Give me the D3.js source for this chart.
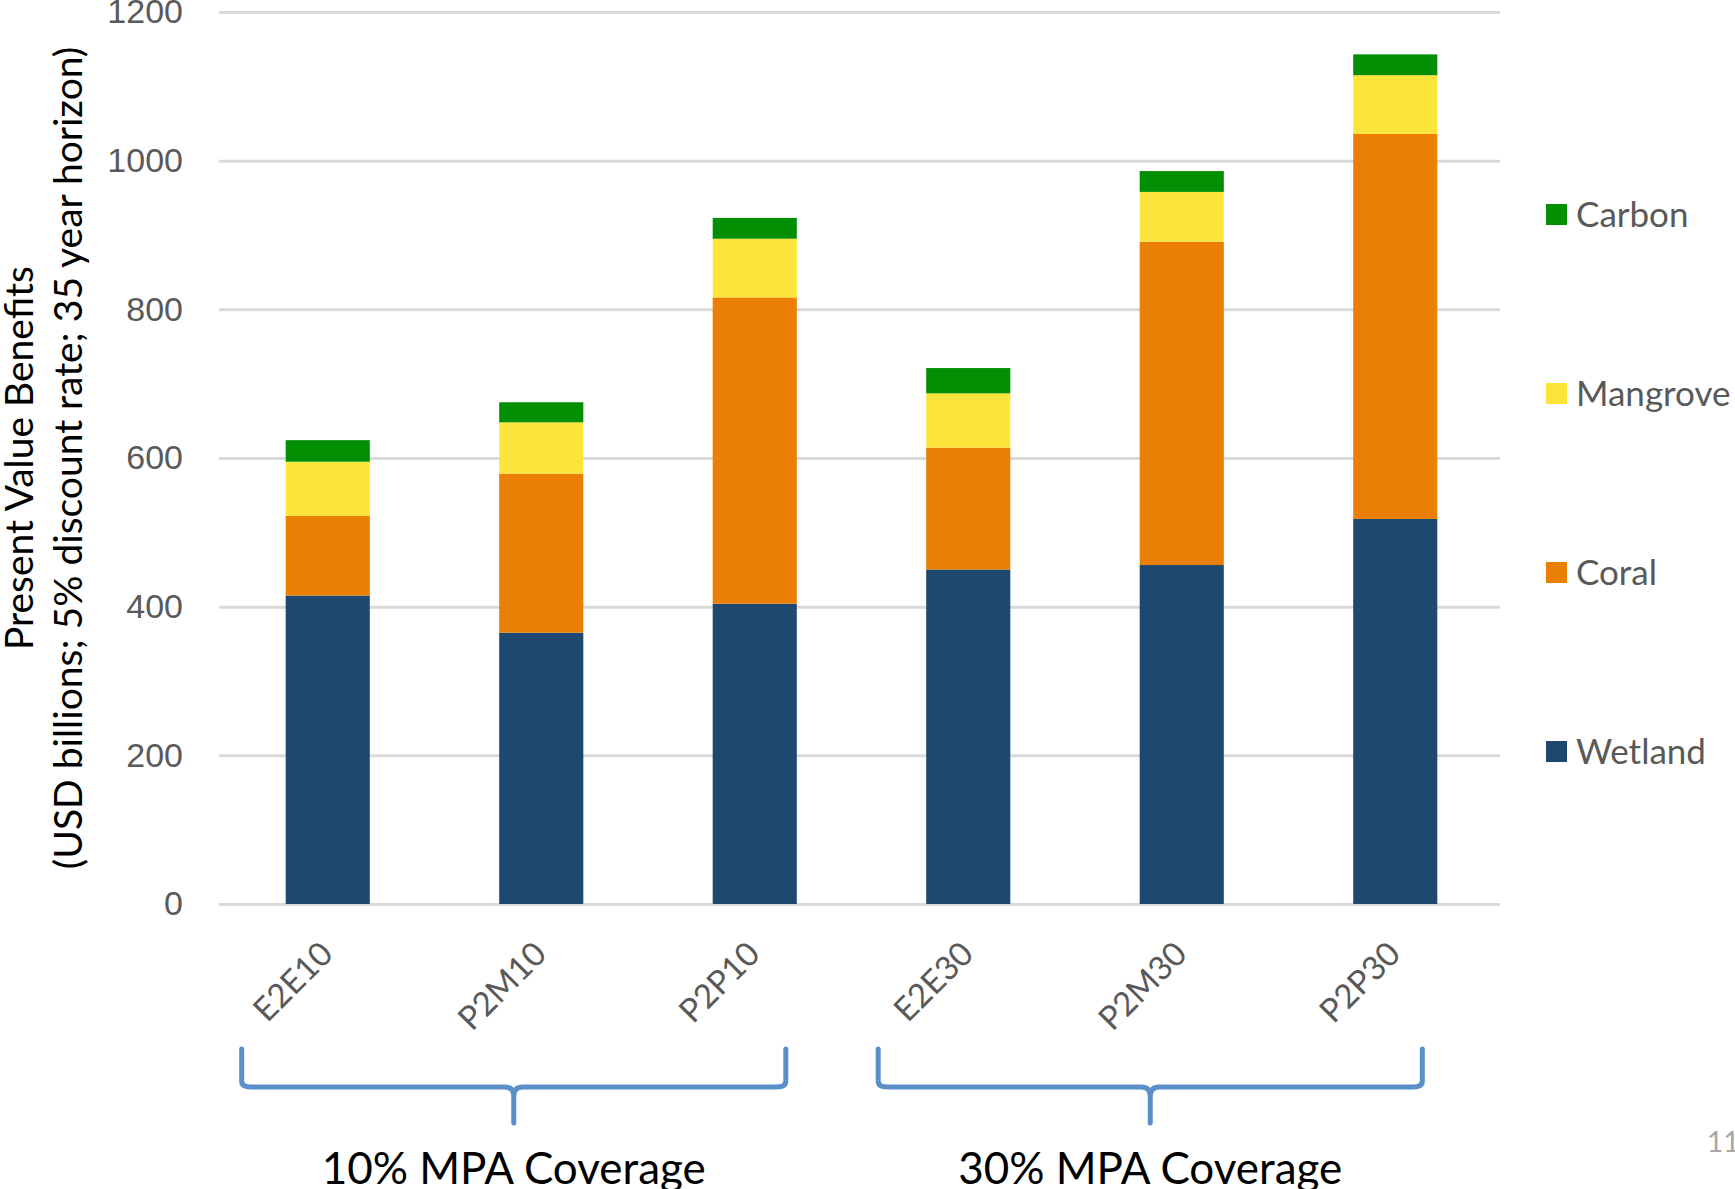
<!DOCTYPE html>
<html>
<head>
<meta charset="utf-8">
<script src="https://cdn.jsdelivr.net/npm/d3@7"></script>
<style>
  body { margin: 0; background: #fff; }
  svg { display: block; font-family: Lato, "Open Sans", sans-serif; }
</style>
</head>
<body>
<svg width="1735" height="1189"></svg>
<script>
// scenario names, in order
var scenarios = ["E2E10", "P2M10", "P2P10", "E2E30", "P2M30", "P2P30"];

// benefit per component (USD billions)
var wetland  = [415, 365, 404, 450, 456, 518];
var coral    = [107, 214, 412, 164, 435, 518];
var mangrove = [73, 69, 79, 73, 67, 79];
var carbon   = [29, 27, 28, 34, 28, 28];

var seriesNames = ["Wetland", "Coral", "Mangrove", "Carbon"];
var seriesColors = ["#1f4870", "#eb7f04", "#fce53b", "#028f04"];
var yTicks = [0, 200, 400, 600, 800, 1000, 1200];

var groups = [
  { label: "10% MPA Coverage", first: "E2E10", last: "P2P10" },
  { label: "30% MPA Coverage", first: "E2E30", last: "P2P30" }
];

var svg = d3.select("svg"),
    width = +svg.attr("width"),
    height = +svg.attr("height");

var rows = scenarios.map(function(s, i) {
  return { name: s, Wetland: wetland[i], Coral: coral[i], Mangrove: mangrove[i], Carbon: carbon[i] };
});

var x = d3.scaleBand()
    .domain(scenarios)
    .range([221, 1502])
    .paddingInner(0.606)
    .paddingOuter(0.303);

var y = d3.scaleLinear()
    .domain([0, 1200])
    .range([904, 12]);

var color = d3.scaleOrdinal()
    .domain(seriesNames)
    .range(seriesColors);

// gridlines + tick labels
var yAxis = svg.append("g")
    .attr("transform", "translate(219,0)")
    .call(d3.axisLeft(y)
      .tickValues(yTicks)
      .tickSize(-(1500 - 219))
      .tickPadding(36)
      .tickFormat(d3.format("d")));
yAxis.select(".domain").remove();
yAxis.selectAll(".tick line")
    .attr("stroke", "#d9d9d9")
    .attr("stroke-width", 3);
yAxis.selectAll(".tick text")
    .attr("fill", "#595959")
    .attr("font-size", 34);

// stacked bars
var stack = d3.stack().keys(seriesNames);

svg.append("g")
  .selectAll("g")
  .data(stack(rows))
  .enter().append("g")
    .attr("fill", function(d) { return color(d.key); })
  .selectAll("rect")
  .data(function(d) { return d; })
  .enter().append("rect")
    .attr("x", function(d) { return x(d.data.name); })
    .attr("y", function(d) { return y(d[1]); })
    .attr("height", function(d) { return y(d[0]) - y(d[1]); })
    .attr("width", x.bandwidth());

// rotated category labels
svg.append("g")
  .selectAll("text")
  .data(scenarios)
  .enter().append("text")
    .attr("transform", function(d) {
      return "translate(" + (x(d) + x.bandwidth() / 2 + 7) + ",956) rotate(-45)";
    })
    .attr("text-anchor", "end")
    .attr("fill", "#595959")
    .attr("font-size", 33)
    .text(function(d) { return d; });

// y axis title
var title = svg.append("text")
    .attr("transform", "translate(0,458) rotate(-90)")
    .attr("text-anchor", "middle")
    .attr("fill", "#000")
    .attr("font-size", 39);
title.append("tspan").attr("x", 0).attr("y", 33).text("Present Value Benefits");
title.append("tspan").attr("x", 0).attr("y", 82).text("(USD billions; 5% discount rate; 35 year horizon)");

// legend, top to bottom: Carbon, Mangrove, Coral, Wetland
var legend = svg.append("g")
  .selectAll("g")
  .data(seriesNames.slice().reverse())
  .enter().append("g")
    .attr("transform", function(d, i) { return "translate(1546," + (215 + i * 179) + ")"; });

legend.append("rect")
    .attr("x", 0)
    .attr("y", -11)
    .attr("width", 21)
    .attr("height", 21)
    .attr("fill", function(d) { return color(d); });

legend.append("text")
    .attr("x", 30)
    .attr("y", 0)
    .attr("dy", "0.35em")
    .attr("fill", "#595959")
    .attr("font-size", 35)
    .text(function(d) { return d; });

// curly brackets under each coverage group
function bracket(x0, x1) {
  var xm = (x0 + x1) / 2,
      top = 1049, mid = 1087, tip = 1123, r = 6;
  return "M" + x0 + "," + top +
    "L" + x0 + "," + (mid - r) +
    "Q" + x0 + "," + mid + " " + (x0 + r * 1.5) + "," + mid +
    "L" + (xm - r * 1.5) + "," + mid +
    "Q" + xm + "," + mid + " " + xm + "," + (mid + r * 1.5) +
    "L" + xm + "," + tip +
    "M" + xm + "," + (mid + r * 1.5) +
    "Q" + xm + "," + mid + " " + (xm + r * 1.5) + "," + mid +
    "L" + (x1 - r * 1.5) + "," + mid +
    "Q" + x1 + "," + mid + " " + x1 + "," + (mid - r) +
    "L" + x1 + "," + top;
}

function left(d) { return x(d.first) - 44 + (d.first === "E2E30" ? -4 : 0); }
function right(d) { return x(d.last) + x.bandwidth() - 11 + (d.first === "E2E30" ? -4 : 0); }

var grp = svg.append("g")
  .selectAll("g")
  .data(groups)
  .enter().append("g");

grp.append("path")
    .attr("d", function(d) { return bracket(left(d), right(d)); })
    .attr("fill", "none")
    .attr("stroke", "#5b8fc9")
    .attr("stroke-width", 5)
    .attr("stroke-linecap", "round");

grp.append("text")
    .attr("x", function(d) { return (left(d) + right(d)) / 2; })
    .attr("y", 1184)
    .attr("text-anchor", "middle")
    .attr("fill", "#000")
    .attr("font-size", 44)
    .text(function(d) { return d.label; });

// slide number
svg.append("text")
    .attr("x", 1707)
    .attr("y", 1152)
    .attr("fill", "#a6a6a6")
    .attr("font-size", 28)
    .text("11");
</script>
</body>
</html>
